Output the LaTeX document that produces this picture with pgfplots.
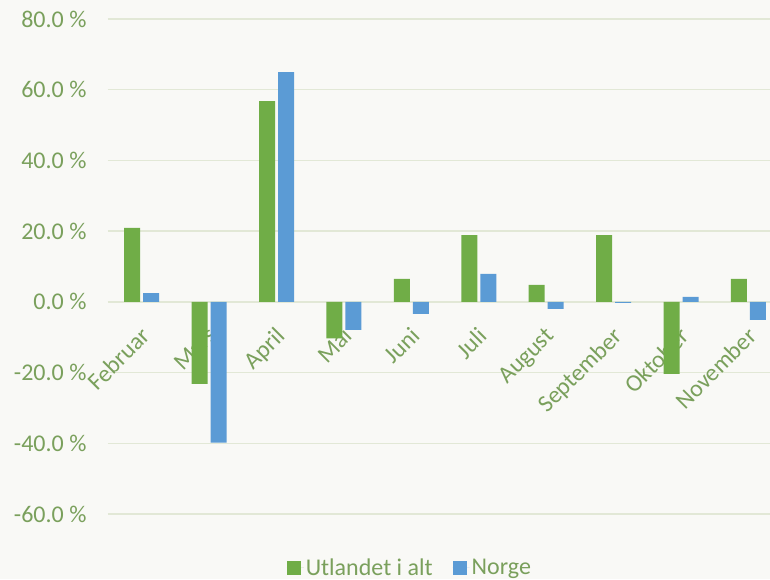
\documentclass[border=0pt]{standalone}
\usepackage{pgfplots}
\pgfplotsset{compat=1.18}
\usepackage{fontspec}
\setmainfont{Carlito}
\definecolor{bgc}{RGB}{249,249,246}
\definecolor{gridc}{RGB}{226,232,214}
\definecolor{txtc}{RGB}{122,160,92}
\definecolor{gbar}{RGB}{112,173,71}
\definecolor{bbar}{RGB}{91,155,213}
\begin{document}
\begin{tikzpicture}
\fill[bgc] (-108pt,-65pt) rectangle (662pt,514pt);
\begin{axis}[
  at={(0pt,0pt)}, anchor=south west,
  scale only axis, width=662pt, height=495pt,
  xmin=-0.5, xmax=9.32, ymin=-60, ymax=80,
  ybar=3pt, bar width=16pt,
  axis line style={draw=none},
  major tick length=0pt,
  ytick={-60,-40,-20,0,20,40,60,80},
  yticklabels={-60.0 \%,-40.0 \%,-20.0 \%,0.0 \%,20.0 \%,40.0 \%,60.0 \%,80.0 \%},
  ymajorgrids,
  grid style={gridc, line width=1.3pt},
  xtick={0,1,2,3,4,5,6,7,8,9},
  xticklabels={Februar,Mars,April,Mai,Juni,Juli,August,September,Oktober,November},
  x tick label style={yshift=191pt, xshift=-2pt, rotate=45, anchor=north east, font=\fontsize{24}{28}\selectfont, text=txtc, inner sep=2pt},
  y tick label style={font=\fontsize{24}{28}\selectfont, text=txtc, xshift=-18pt},
  clip=false,
  legend style={at={(0.456,-0.109)}, anchor=center, draw=none, fill=none,
    legend columns=2, font=\fontsize{24}{28}\selectfont, text=txtc,
    /tikz/every even column/.append style={column sep=18pt}},
  legend image code/.code={\fill[#1] (0pt,-7pt) rectangle (14pt,7pt); \path (0pt,0pt) -- (17pt,0pt);},
]
\addplot[fill=gbar, draw=none] coordinates {(0,20.9) (1,-23.2) (2,56.8) (3,-10.3) (4,6.5) (5,18.9) (6,4.8) (7,18.9) (8,-20.4) (9,6.5)};
\addplot[fill=bbar, draw=none] coordinates {(0,2.5) (1,-39.8) (2,65.0) (3,-7.9) (4,-3.4) (5,7.9) (6,-2.0) (7,-0.3) (8,1.4) (9,-5.1)};
\legend{Utlandet i alt, Norge}
\end{axis}
\pgfresetboundingbox
\useasboundingbox (-108pt,-65pt) rectangle (662pt,514pt);
\end{tikzpicture}
\end{document}
